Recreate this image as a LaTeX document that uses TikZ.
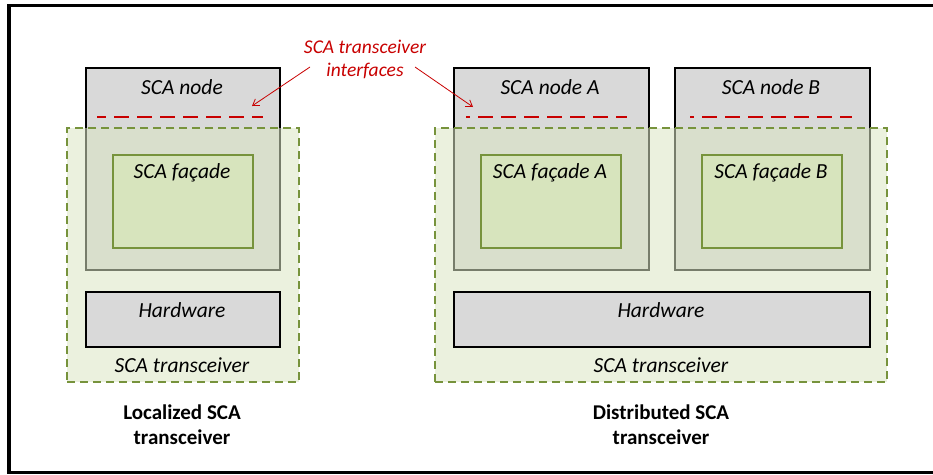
\documentclass[tikz,border=0pt]{standalone}
\usepackage{fontspec}
\setmainfont{Carlito}
\usetikzlibrary{arrows.meta}
\definecolor{boxgray}{RGB}{217,217,217}
\definecolor{olive}{RGB}{119,147,60}
\definecolor{tint}{RGB}{218,229,195}
\definecolor{facade}{RGB}{215,228,189}
\definecolor{ifred}{RGB}{200,0,0}
\tikzset{
  lbl/.style={font=\fontsize{21.5}{24}\selectfont\itshape, inner sep=0pt},
  caption/.style={font=\fontsize{21}{25}\selectfont\bfseries, align=center, inner sep=0pt},
  redlbl/.style={font=\fontsize{19.5}{23}\selectfont\itshape, text=ifred, align=center, inner sep=0pt},
  nodebox/.style={draw=black, line width=1.5pt, fill=boxgray, anchor=north west, inner sep=0pt},
  hwbox/.style={draw=black, line width=1.5pt, fill=boxgray, anchor=north west, inner sep=0pt},
  container/.style={draw=olive, line width=2pt, dash pattern=on 8pt off 5pt,
    fill=tint, fill opacity=0.55, anchor=north west, inner sep=0pt},
  facadebox/.style={draw=olive, line width=1.5pt, fill=facade, anchor=north west, inner sep=0pt},
  ifline/.style={draw=ifred, line width=2.2pt, dash pattern=on 15pt off 8pt},
  pointer/.style={draw=ifred, line width=0.8pt, -{Straight Barb[length=6pt,width=8pt]}}
}
\begin{document}
\begin{tikzpicture}[x=1pt, y=-1pt]
\useasboundingbox (0,0) rectangle (933,474);
% outer frame (right side runs off the page)
\draw[line width=3.2pt] (9,5.5) rectangle (950,472.5);

% SCA nodes
\node[nodebox, minimum width=194pt, minimum height=202pt] (nodeL) at (85,67) {};
\node[nodebox, minimum width=195pt, minimum height=202pt] (nodeA) at (453,67) {};
\node[nodebox, minimum width=195pt, minimum height=202pt] (nodeB) at (674,67) {};

% transceiver containers
\node[container, minimum width=232pt, minimum height=254pt] (trL) at (66,127) {};
\node[container, minimum width=452pt, minimum height=254pt] (trD) at (434,127) {};

% facades
\node[facadebox, minimum width=140pt, minimum height=93pt] (facL) at (112,154) {};
\node[facadebox, minimum width=140pt, minimum height=93pt] (facA) at (480,154) {};
\node[facadebox, minimum width=140pt, minimum height=93pt] (facB) at (701,154) {};

% hardware
\node[hwbox, minimum width=194pt, minimum height=55pt] (hwL) at (85,291) {};
\node[hwbox, minimum width=416pt, minimum height=55pt] (hwD) at (453,291) {};

% interface lines
\draw[ifline, dash phase=6pt] (97,117) -- (263,117);
\draw[ifline, dash phase=11pt] (466,117) -- (627,117);
\draw[ifline, dash phase=11pt] (690,117) -- (852,117);

% labels
\node[lbl] (tNodeL) at (182,87) {SCA node};
\node[lbl] (tNodeA) at (550,87) {SCA node A};
\node[lbl] (tNodeB) at (771,87) {SCA node B};
\node[lbl] (tFacL) at (182,173) {SCA façade};
\node[lbl] (tFacA) at (550,173) {SCA façade A};
\node[lbl] (tFacB) at (771,173) {SCA façade B};
\node[lbl] (tHwL) at (182,310) {Hardware};
\node[lbl] (tHwD) at (661,310) {Hardware};
\node[lbl] (tTrL) at (182,365) {SCA transceiver};
\node[lbl] (tTrD) at (661,365) {SCA transceiver};

\node[caption] (capL) at (182,425) {Localized SCA\\transceiver};
\node[caption] (capD) at (661,425) {Distributed SCA\\transceiver};

\node[redlbl] (ifLbl) at (365,59) {SCA transceiver\\interfaces};
\coordinate (ifTipL) at (252,106);
\coordinate (ifTipA) at (473,107);
\coordinate (ifFromL) at (310,67);
\coordinate (ifFromA) at (415,67);
\draw[pointer] (ifFromL) -- (ifTipL);
\draw[pointer] (ifFromA) -- (ifTipA);
\end{tikzpicture}
\end{document}
